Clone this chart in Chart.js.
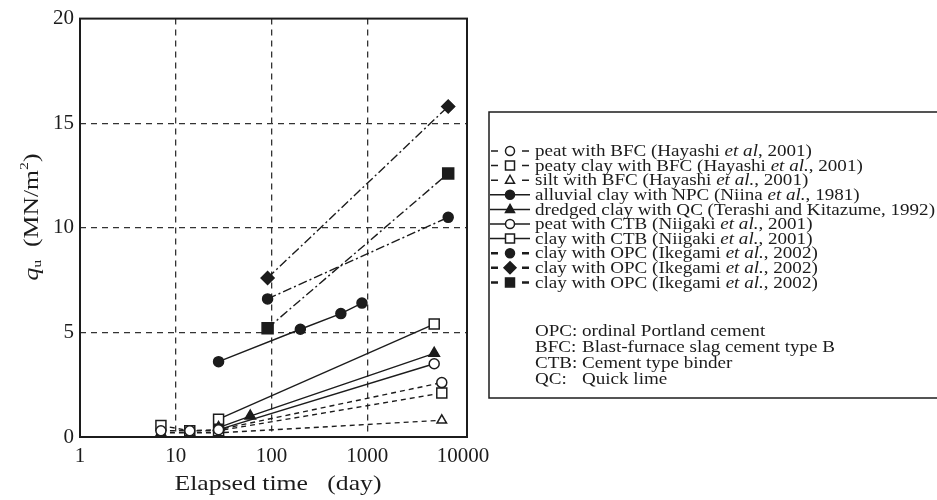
<!DOCTYPE html>
<html><head><meta charset="utf-8">
<script src="https://cdn.jsdelivr.net/npm/chart.js@4/dist/chart.umd.min.js"></script>
<style>html,body{margin:0;padding:0;background:#fff}#wrap{width:937px;height:500px}
.prime{position:absolute;left:-9999px;top:0;font-family:"Liberation Serif";}</style>
</head><body><div id="wrap"><canvas id="c" width="937" height="500"></canvas></div>
<span class="prime">Elapsed time 0123456789</span><span class="prime" style="font-style:italic">et al.</span>
<script>
// ---- data (days, q_u in MN/m2) ----
const xTickValues = [1, 10, 100, 1000, 10000];
const yTickValues = [0, 5, 10, 15, 20];
const peatBFC      = [[7, 0.3], [14, 0.3], [28, 0.35], [6000, 2.6]];
const peatyClayBFC = [[7, 0.55], [14, 0.3], [28, 0.3], [6000, 2.1]];
const siltBFC      = [[7, 0.2], [14, 0.2], [28, 0.2], [6000, 0.8]];
const alluvialNPC  = [[28, 3.6], [200, 5.15], [530, 5.9], [880, 6.4]];
const dredgedQC    = [[28, 0.45], [60, 1.0], [5000, 4.0]];
const peatCTB      = [[28, 0.35], [5000, 3.5]];
const clayCTB      = [[28, 0.85], [5000, 5.4]];
const clayOPC1     = [[91, 6.6], [7000, 10.5]];
const clayOPC2     = [[91, 7.6], [7000, 15.8]];
const clayOPC3     = [[91, 5.2], [7000, 12.6]];
const seriesLabels = [
  "peat with BFC (Hayashi |et al|, 2001)",
  "peaty clay with BFC (Hayashi |et al.|, 2001)",
  "silt with BFC (Hayashi |et al.|, 2001)",
  "alluvial clay with NPC (Niina |et al.|, 1981)",
  "dredged clay with QC (Terashi and Kitazume, 1992)",
  "peat with CTB (Niigaki |et al.|, 2001)",
  "clay with CTB (Niigaki |et al.|, 2001)",
  "clay with OPC (Ikegami |et al.|, 2002)",
  "clay with OPC (Ikegami |et al.|, 2002)",
  "clay with OPC (Ikegami |et al.|, 2002)"
];
const noteKeys = ["OPC:", "BFC:", "CTB:", "QC:"];
const noteTexts = ["ordinal Portland cement", "Blast-furnace slag cement type B", "Cement type binder", "Quick lime"];

const FAM = '"Liberation Serif", "Times New Roman", Times, serif';
const INK = '#1c1c1c';
const DASH = [5, 4];
const DASHDOT = [9, 3, 2, 3];
const styles = [
  {dash: DASH, marker: 'circle', fill: false, r: 5},
  {dash: DASH, marker: 'square', fill: false, r: 5},
  {dash: DASH, marker: 'triangle', fill: false, r: 5},
  {dash: [], marker: 'circle', fill: true, r: 5},
  {dash: [], marker: 'triangle', fill: true, r: 5.5},
  {dash: [], marker: 'circle', fill: false, r: 5},
  {dash: [], marker: 'square', fill: false, r: 5},
  {dash: DASHDOT, marker: 'circle', fill: true, r: 5},
  {dash: DASHDOT, marker: 'diamond', fill: true, r: 6.5},
  {dash: DASHDOT, marker: 'square', fill: true, r: 5.5}
];
const allSeries = [peatBFC, peatyClayBFC, siltBFC, alluvialNPC, dredgedQC, peatCTB, clayCTB, clayOPC1, clayOPC2, clayOPC3];
const styleMap = {circle: 'circle', square: 'rect', triangle: 'triangle', diamond: 'rectRot'};
const radiusMap = {circle: 1, square: 1.414, triangle: 1.1, diamond: 1};

const datasets = allSeries.map((s, i) => {
  const st = styles[i];
  return {
    label: seriesLabels[i].replace(/\|/g, ''),
    data: s.map(([x, y]) => ({x, y})),
    showLine: true,
    borderColor: INK,
    borderWidth: 1.4,
    borderDash: st.dash,
    pointStyle: styleMap[st.marker],
    pointRadius: st.r * radiusMap[st.marker],
    pointBackgroundColor: st.fill ? INK : '#fff',
    pointBorderColor: INK,
    pointBorderWidth: 1.5,
    tension: 0,
    fill: false
  };
});

function drawMarker(ctx, type, x, y, r, fill) {
  ctx.beginPath();
  if (type === 'circle') ctx.arc(x, y, r, 0, Math.PI * 2);
  else if (type === 'square') ctx.rect(x - r, y - r, 2 * r, 2 * r);
  else if (type === 'triangle') { ctx.moveTo(x, y - r * 1.1); ctx.lineTo(x + r, y + r * 0.7); ctx.lineTo(x - r, y + r * 0.7); ctx.closePath(); }
  else if (type === 'diamond') { ctx.moveTo(x, y - r); ctx.lineTo(x + r, y); ctx.lineTo(x, y + r); ctx.lineTo(x - r, y); ctx.closePath(); }
  ctx.fillStyle = fill ? INK : '#fff';
  ctx.fill();
  ctx.setLineDash([]);
  ctx.lineWidth = 1.5;
  ctx.strokeStyle = INK;
  ctx.stroke();
}

function drawRich(ctx, str, x, y, size, sx) {
  const parts = str.split('|');
  ctx.save();
  ctx.translate(x, y);
  ctx.scale(sx, 1);
  let cx = 0;
  parts.forEach((p, k) => {
    ctx.font = (k % 2 ? 'italic ' : '') + size + 'px ' + FAM;
    ctx.fillText(p, cx, 0);
    cx += ctx.measureText(p).width;
  });
  ctx.restore();
}
function richWidth(ctx, str, size) {
  let w = 0;
  str.split('|').forEach((p, k) => {
    ctx.font = (k % 2 ? 'italic ' : '') + size + 'px ' + FAM;
    w += ctx.measureText(p).width;
  });
  return w;
}

const decor = {
  id: 'decor',
  afterDraw(chart) {
    const ctx = chart.ctx;
    const a = chart.chartArea;
    ctx.save();
    // frame
    ctx.setLineDash([]);
    ctx.strokeStyle = INK;
    ctx.lineWidth = 2;
    ctx.strokeRect(a.left, a.top, a.right - a.left, a.bottom - a.top);

    ctx.fillStyle = INK;
    ctx.textBaseline = 'middle';
    // x title
    ctx.font = '22px ' + FAM;
    const xt = 'Elapsed time   (day)';
    const xw = ctx.measureText(xt).width;
    ctx.save();
    ctx.translate(278, 484);
    ctx.scale(207 / xw, 1);
    ctx.textAlign = 'center';
    ctx.fillText(xt, 0, 0);
    ctx.restore();

    // y title (rotated)
    ctx.save();
    ctx.translate(32, 217);
    ctx.rotate(-Math.PI / 2);
    const big = '21px ' + FAM;
    const bigI = 'italic 21px ' + FAM;
    const small = '13px ' + FAM;
    const segs = [
      {t: 'q', f: bigI, dy: 0},
      {t: 'u', f: small, dy: 6},
      {t: '  ', f: big, dy: 0},
      {t: '(MN/m', f: big, dy: 0},
      {t: '2', f: small, dy: -7},
      {t: ')', f: big, dy: 0}
    ];
    let tw = 0;
    segs.forEach(s => { ctx.font = s.f; s.w = ctx.measureText(s.t).width; tw += s.w; });
    const ysx = 127 / tw;
    ctx.scale(ysx, 1);
    let cx = -tw / 2;
    ctx.textAlign = 'left';
    segs.forEach(s => { ctx.font = s.f; ctx.fillText(s.t, cx, s.dy); cx += s.w; });
    ctx.restore();

    // legend box
    ctx.lineWidth = 1.5;
    ctx.strokeStyle = INK;
    ctx.strokeRect(489, 112, 460, 286);
    const fs = 16;
    let maxW = 0;
    seriesLabels.forEach(l => { maxW = Math.max(maxW, richWidth(ctx, l, fs)); });
    const sx = 400 / maxW;
    ctx.textAlign = 'left';
    seriesLabels.forEach((l, i) => {
      const y = 151 + i * 14.6;
      const st = styles[i];
      ctx.strokeStyle = INK;
      ctx.lineWidth = st.dash === DASHDOT ? 2.5 : 1.5;
      ctx.setLineDash([]);
      ctx.beginPath();
      if (st.dash.length) {
        ctx.moveTo(491, y); ctx.lineTo(498, y);
        ctx.moveTo(522, y); ctx.lineTo(529, y);
      } else {
        ctx.moveTo(490, y); ctx.lineTo(530, y);
      }
      ctx.stroke();
      drawMarker(ctx, st.marker, 510, y, st.marker === 'diamond' ? 6 : 4.5, st.fill);
      ctx.fillStyle = INK;
      drawRich(ctx, l, 535, y + 1, fs, sx);
    });
    // notes
    noteKeys.forEach((k, i) => {
      const y = 332 + i * 16;
      drawRich(ctx, k, 535, y, fs, sx);
      drawRich(ctx, noteTexts[i], 582, y, fs, sx);
    });
    ctx.restore();
  }
};

function build() {
  new Chart(document.getElementById('c'), {
    type: 'scatter',
    data: {datasets},
    options: {
      responsive: false,
      animation: false,
      devicePixelRatio: 1,
      layout: {padding: {left: 0, top: 18, right: 470, bottom: 0}},
      plugins: {legend: {display: false}, tooltip: {enabled: false}},
      scales: {
        x: {
          type: 'logarithmic',
          min: 1,
          max: 11000,
          afterBuildTicks: s => { s.ticks = xTickValues.map(v => ({value: v})); },
          afterFit: s => { s.height = 63; },
          ticks: {
            autoSkip: false, maxRotation: 0, padding: 7,
            color: INK,
            font: {family: FAM, size: 21},
            callback: v => String(v)
          },
          grid: {
            drawTicks: false,
            lineWidth: 1.3,
            color: c => (c.tick && (c.tick.value === 1 || c.tick.value === 10000)) ? 'rgba(0,0,0,0)' : '#333'
          },
          border: {display: false, dash: [6, 5]}
        },
        y: {
          min: 0,
          max: 20,
          afterBuildTicks: s => { s.ticks = yTickValues.map(v => ({value: v})); },
          afterFit: s => { s.width = 80; },
          ticks: {
            padding: 6,
            color: INK,
            font: {family: FAM, size: 21}
          },
          grid: {
            drawTicks: false,
            lineWidth: 1.3,
            color: c => (c.tick && (c.tick.value === 0 || c.tick.value === 20)) ? 'rgba(0,0,0,0)' : '#333'
          },
          border: {display: false, dash: [6, 5]}
        }
      }
    },
    plugins: [decor]
  });
}
const fontLoads = [document.fonts.load('16px "Liberation Serif"'), document.fonts.load('italic 16px "Liberation Serif"')];
Promise.all(fontLoads).then(build, build);
</script>
</body></html>
